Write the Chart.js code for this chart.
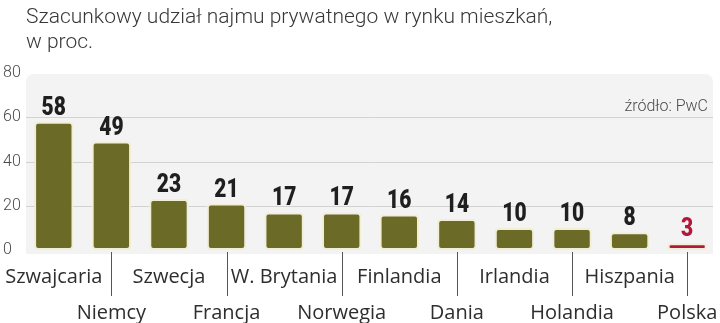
<!DOCTYPE html>
<html>
<head>
<meta charset="utf-8">
<script src="https://cdn.jsdelivr.net/npm/chart.js@4/dist/chart.umd.min.js"></script>
<style>
  html, body { margin: 0; padding: 0; background: #fff; }
  #wrap { width: 720px; height: 323px; position: relative; }
</style>
</head>
<body>
<div id="wrap"><canvas id="chart"></canvas></div>
<script>
  'use strict';

  // Data
  const titleLines = ['Szacunkowy udział najmu prywatnego w rynku mieszkań,', 'w proc.'];
  const sourceNote = 'źródło: PwC';
  const countries = ['Szwajcaria', 'Niemcy', 'Szwecja', 'Francja', 'W. Brytania', 'Norwegia',
    'Finlandia', 'Dania', 'Irlandia', 'Holandia', 'Hiszpania', 'Polska'];
  const shares = [58, 49, 23, 21, 17, 17, 16, 14, 10, 10, 8, 3];
  const yTicks = [0, 20, 40, 60, 80];

  const colors = {
    olive: '#6b6a26',
    red: '#b3173a',
    edge: '#f1eed6',
    panel: '#f3f3f3',
    grid: '#d2d2d2',
    text: '#1f1f1f',
    axis: '#4a4a4a'
  };

  const highlight = 'Polska';

  // Title, light gray panel behind the plot, gridlines, source note
  const panelPlugin = {
    id: 'panel',
    beforeDraw(chart) {
      const { ctx, chartArea: a } = chart;
      const y = chart.scales.y;
      ctx.save();
      ctx.fillStyle = '#383838';
      ctx.font = '300 21px Roboto, "Liberation Sans", sans-serif';
      ctx.textAlign = 'left';
      ctx.textBaseline = 'alphabetic';
      titleLines.forEach((line, i) => ctx.fillText(line, 26, 23 + i * 25));

      ctx.fillStyle = colors.panel;
      ctx.beginPath();
      ctx.roundRect(a.left + 1, a.top + 1, a.right - a.left - 4, y.getPixelForValue(0) - a.top + 3, [8, 8, 0, 0]);
      ctx.fill();
      ctx.strokeStyle = colors.grid;
      ctx.lineWidth = 1;
      [20, 40, 60].forEach((v) => {
        const py = Math.round(y.getPixelForValue(v)) + 0.5;
        ctx.beginPath();
        ctx.moveTo(a.left + 1, py);
        ctx.lineTo(a.right - 3, py);
        ctx.stroke();
      });
      ctx.fillStyle = '#4a4a4a';
      ctx.font = '300 16px Roboto, "Liberation Sans", sans-serif';
      ctx.textAlign = 'right';
      ctx.fillText(sourceNote, a.right - 8, 111);
      ctx.restore();
    }
  };

  // Value labels above bars, category labels in two rows with leader lines
  const labelsPlugin = {
    id: 'labels',
    afterDatasetsDraw(chart) {
      const { ctx } = chart;
      const meta = chart.getDatasetMeta(0);
      const y0 = chart.scales.y.getPixelForValue(0);
      ctx.save();
      meta.data.forEach((bar, i) => {
        const isHi = countries[i] === highlight;
        // condensed bold number
        ctx.save();
        ctx.translate(bar.x, bar.y - 7);
        ctx.scale(0.84, 1);
        ctx.fillStyle = isHi ? colors.red : colors.text;
        ctx.font = '900 25px Roboto, "DejaVu Sans", sans-serif';
        ctx.textAlign = 'center';
        ctx.textBaseline = 'alphabetic';
        ctx.fillText(String(shares[i]), 0, 0);
        ctx.restore();

        const lower = i % 2 === 1;
        if (lower) {
          ctx.strokeStyle = '#555';
          ctx.lineWidth = 1;
          ctx.beginPath();
          ctx.moveTo(Math.round(bar.x) + 0.5, y0 + 2);
          ctx.lineTo(Math.round(bar.x) + 0.5, y0 + 46);
          ctx.stroke();
        }
        ctx.fillStyle = '#2e2e2e';
        ctx.font = '20px "Open Sans", "Liberation Sans", sans-serif';
        ctx.textAlign = 'center';
        let x = bar.x;
        const w = ctx.measureText(countries[i]).width;
        if (x - w / 2 < 0) x = w / 2;
        if (x + w / 2 > chart.width) x = chart.width - w / 2;
        ctx.fillText(countries[i], x, lower ? y0 + 69 : y0 + 33);
      });
      ctx.restore();
    }
  };

  new Chart(document.getElementById('chart'), {
    type: 'bar',
    data: {
      labels: countries,
      datasets: [{
        data: shares,
        backgroundColor: countries.map((c) => c === highlight ? colors.red : colors.olive),
        borderColor: colors.edge,
        borderWidth: 2,
        borderSkipped: false,
        borderRadius: 4,
        barPercentage: 0.72,
        categoryPercentage: 0.95
      }]
    },
    options: {
      responsive: true,
      maintainAspectRatio: false,
      animation: false,
      layout: { padding: { left: 3, right: 4, top: 73, bottom: 0 } },
      plugins: {
        legend: { display: false },
        tooltip: { enabled: false },
        title: { display: false }
      },
      scales: {
        x: {
          grid: { display: false },
          border: { display: false },
          ticks: { display: false },
          afterFit: (s) => { s.height = 73; }
        },
        y: {
          min: 0,
          max: 80,
          afterBuildTicks: (s) => { s.ticks = yTicks.map((v) => ({ value: v })); },
          grid: { display: false },
          border: { display: false },
          ticks: {
            color: colors.axis,
            crossAlign: 'far',
            padding: 2,
            font: { family: 'Roboto, "Liberation Sans", sans-serif', size: 16, weight: '300' }
          },
          afterFit: (s) => { s.width = 22; }
        }
      }
    },
    plugins: [panelPlugin, labelsPlugin]
  });
</script>
</body>
</html>
